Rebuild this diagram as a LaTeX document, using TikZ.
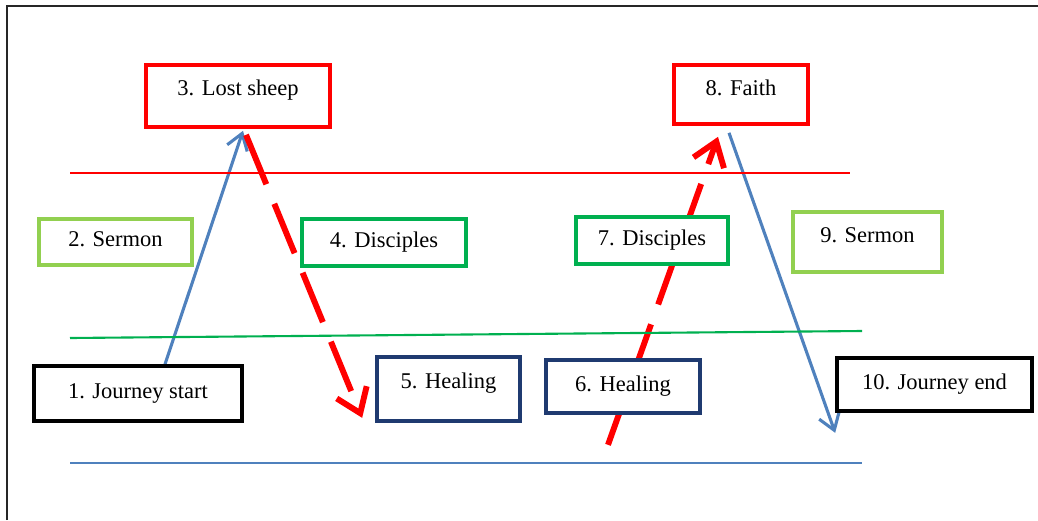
\documentclass[tikz,border=0pt]{standalone}
\usepackage{fontspec}
\setmainfont{Liberation Serif}
\usetikzlibrary{arrows.meta}
\usetikzlibrary{backgrounds}
\definecolor{peakred}{HTML}{FF0000}
\definecolor{talkgreen}{HTML}{92D050}
\definecolor{groupgreen}{HTML}{00B050}
\definecolor{healblue}{HTML}{1F3A70}
\definecolor{pathblue}{HTML}{4F81BD}
\newcommand{\px}{0.025cm}
\tikzset{
    stage/.style = {draw, line width=2.6pt, align=center, inner sep=0pt, fill=white,
                    text height=11pt, text depth=4pt,
                    font=\fontsize{16}{19}\selectfont},
    lift/.style = {text depth=#1},
    ends_stage/.style = {stage, draw=black},
    talk_stage/.style = {stage, draw=talkgreen},
    group_stage/.style = {stage, draw=groupgreen},
    heal_stage/.style = {stage, draw=healblue},
    peak_stage/.style = {stage, draw=peakred},
    walk/.style = {draw=pathblue, line width=2.2pt, -{Straight Barb[length=11pt,width=15pt]}},
    turn/.style = {draw=peakred, line width=4.2pt, dash pattern=on 38pt off 15pt,
                   -{Straight Barb[length=16pt,width=23pt]}},
    level_line/.style = {line width=1.5pt}
}

\begin{document}
\begin{tikzpicture}[x=\px, y=-\px]
    \useasboundingbox (0,0) rectangle (1038,520);

    % frame
    \draw [line width=1.2pt, black!85] (7,520) |- (1038,6);

    % levels
    \draw [level_line, peakred] (70,173) -- (850,173);
    \draw [level_line, groupgreen] (70,338) -- (862,331);
    \draw [level_line, pathblue] (70,463) -- (862,463);

    % stages
    \node [ends_stage, minimum width=208*\px, minimum height=55*\px] (start) at (138,393.5) {1. Journey start};
    \node [talk_stage, minimum width=153*\px, minimum height=46*\px] (sermonA) at (115.5,242) {2. Sermon};
    \node [peak_stage, lift=12pt, minimum width=184*\px, minimum height=62*\px] (lost) at (238,96) {3. Lost sheep};
    \node [group_stage, minimum width=164*\px, minimum height=47*\px] (discA) at (384,242.5) {4. Disciples};
    \node [heal_stage, lift=12pt, minimum width=143*\px, minimum height=64*\px] (healA) at (448.5,389) {5. Healing};
    \node [heal_stage, minimum width=154*\px, minimum height=53*\px] (healB) at (623,386.5) {6. Healing};
    \node [group_stage, minimum width=152*\px, minimum height=47*\px] (discB) at (652,240.5) {7. Disciples};
    \node [peak_stage, lift=9pt, minimum width=134*\px, minimum height=59*\px] (faith) at (741,94.5) {8. Faith};
    \node [talk_stage, lift=10pt, minimum width=149*\px, minimum height=60*\px] (sermonB) at (867.5,242) {9. Sermon};
    \node [ends_stage, minimum width=195*\px, minimum height=53*\px] (end) at (934.5,384.5) {10. Journey end};

    % paths, behind the stages
    \begin{scope}[on background layer]
        \draw [walk] ([xshift=27*\px]start.north) -- ([xshift=5*\px, yshift=-2*\px]lost.south);
        \draw [turn] ([xshift=8*\px, yshift=-6*\px]lost.south) -- ([xshift=-13*\px, yshift=5*\px]healA.south west);
        \draw [turn] ([xshift=-15*\px, yshift=-30*\px]healB.south) -- ([xshift=-23*\px, yshift=-11*\px]faith.south);
        \draw [walk] ([xshift=-12*\px, yshift=-7*\px]faith.south) -- ([yshift=-20*\px]end.south west);
    \end{scope}
\end{tikzpicture}
\end{document}
